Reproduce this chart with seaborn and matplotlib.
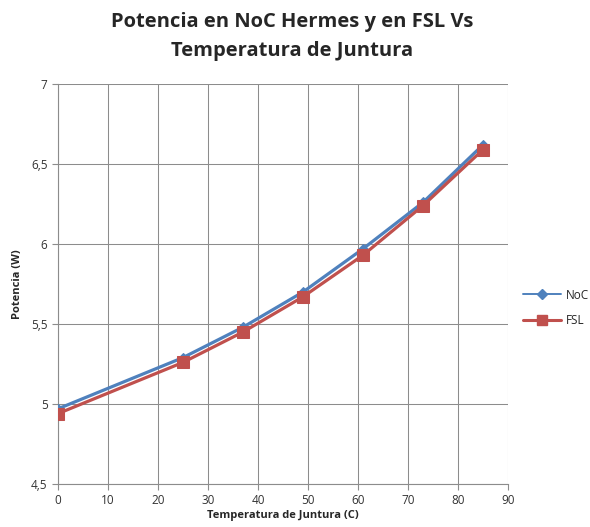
import matplotlib
matplotlib.use("Agg")
import matplotlib.pyplot as plt
from matplotlib.ticker import FuncFormatter, MultipleLocator
from matplotlib.lines import Line2D
import seaborn as sns
import pandas as pd

# Junction temperature (C) and power (W) for each design
temperatura = [0, 25, 37, 49, 61, 73, 85]
potencia_noc = [4.97, 5.29, 5.48, 5.70, 5.97, 6.26, 6.62]
potencia_fsl = [4.94, 5.26, 5.45, 5.67, 5.93, 6.24, 6.59]
series = ["NoC", "FSL"]

df = pd.concat([
    pd.DataFrame({"T": temperatura, "P": potencia_noc, "Serie": series[0]}),
    pd.DataFrame({"T": temperatura, "P": potencia_fsl, "Serie": series[1]}),
])

sns.set_style("white")
plt.rcParams["font.family"] = ["Open Sans", "DejaVu Sans"]

fig = plt.figure(figsize=(5.9, 5.27), dpi=100)
ax = fig.add_axes([58 / 590, 43 / 527, 450 / 590, 400 / 527])

palette = {"NoC": "#4F81BD", "FSL": "#C0504D"}
markers = {"NoC": "D", "FSL": "s"}
sizes = {"NoC": 5.5, "FSL": 8}
for name in series:
    sub = df[df["Serie"] == name]
    sns.lineplot(data=sub, x="T", y="P", ax=ax, color=palette[name],
                 marker=markers[name], markersize=sizes[name],
                 markeredgecolor=palette[name], linewidth=2.3, legend=False,
                 zorder=3 if name == "NoC" else 4)

ax.set_xlim(0, 90)
ax.set_ylim(4.5, 7)
ax.xaxis.set_major_locator(MultipleLocator(10))
ax.yaxis.set_major_locator(MultipleLocator(0.5))
fmt = FuncFormatter(lambda v, p: (f"{v:g}").replace(".", ","))
ax.yaxis.set_major_formatter(fmt)
ax.xaxis.set_major_formatter(fmt)

ax.grid(True, color="#8c8c8c", linewidth=0.75)
ax.set_axisbelow(True)
for s in ["top", "right"]:
    ax.spines[s].set_visible(False)
for s in ["left", "bottom"]:
    ax.spines[s].set_color("#8c8c8c")
    ax.spines[s].set_linewidth(0.8)
ax.tick_params(axis="both", which="both", direction="out", length=4,
               color="#8c8c8c", labelsize=8.5, labelcolor="#333333",
               left=True, bottom=True)

ax.set_xlabel("Temperatura de Juntura (C)", fontsize=8, fontweight="bold",
              labelpad=2)
ax.set_ylabel("Potencia (W)", fontsize=8, fontweight="bold", labelpad=6)

fig.suptitle("Potencia en NoC Hermes y en FSL Vs\nTemperatura de Juntura",
             x=0.495, y=0.978, fontsize=14.5, fontweight="bold",
             linespacing=1.6, va="top")

handles = [Line2D([], [], color=palette[n], marker=markers[n],
                  markersize=sizes[n] * (0.9 if n == "FSL" else 1.0),
                  linewidth=1.4 if n == "NoC" else 2.2) for n in series]
ax.legend(handles, series, loc="center left", bbox_to_anchor=(1.01, 0.44),
          frameon=False, fontsize=8.5, handlelength=3.2, handletextpad=0.4,
          labelspacing=1.1)

fig.savefig("out.png", dpi=100)
